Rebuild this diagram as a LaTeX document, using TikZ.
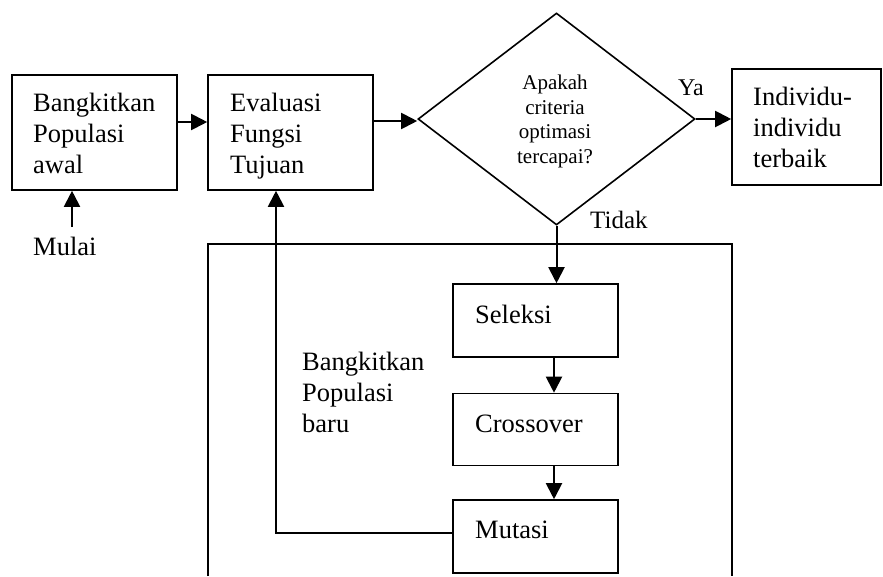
\documentclass[tikz,border=0pt]{standalone}
\usepackage{fontspec}
\setmainfont{Liberation Serif}
\usetikzlibrary{arrows.meta,shapes.geometric}
\begin{document}
\begin{tikzpicture}[x=1pt,y=-1pt,
  box/.style={draw,line width=1.6pt,rectangle,inner sep=0pt},
  txt/.style={anchor=base west,inner sep=0pt,align=left,font=\fontsize{26.5}{31}\selectfont},
  arr/.style={line width=2pt,-{Triangle[length=16pt,width=16pt]}},
  ln/.style={line width=2pt}]
\useasboundingbox (0,0) rectangle (883,576);
% big outer box (open at the bottom edge)
\coordinate (bl) at (208,576);
\coordinate (br) at (732,576);
\draw[line width=1.4pt] (bl) -- (208,244) -- (732,244) -- (br);
% boxes
\node[box,minimum width=165pt,minimum height=115pt] (b1) at (94.5,132.5) {};
\node[box,minimum width=165pt,minimum height=115pt] (b2) at (290.5,132.5) {};
\node[draw,line width=1.6pt,diamond,inner sep=0pt,minimum width=277pt,minimum height=212pt] (d) at (556.5,119) {};
\node[box,minimum width=149pt,minimum height=116pt] (ind) at (806.5,127) {};
\node[box,minimum width=165pt,minimum height=73pt] (sel) at (535.5,320.5) {};
\node[box,minimum width=165pt,minimum height=72pt] (cro) at (535.5,429.5) {};
\node[box,minimum width=165pt,minimum height=73pt] (mut) at (535.5,536.5) {};
% texts (base anchor = baseline of the last line)
\node[txt] (t1) at (33,173) {Bangkitkan\\Populasi\\awal};
\node[txt] (t2) at (230,173) {Evaluasi\\Fungsi\\Tujuan};
\node[txt] (t3) at (753,167) {Individu-\\individu\\terbaik};
\node[anchor=base,inner sep=0pt,align=center,font=\fontsize{21}{24.5}\selectfont] (td) at (555,163) {Apakah\\criteria\\optimasi\\tercapai?};
\node[txt] (mulai) at (33,255) {Mulai};
\node[anchor=base west,inner sep=0pt,font=\fontsize{24}{28}\selectfont] (ya) at (678,95) {Ya};
\node[anchor=base west,inner sep=0pt,font=\fontsize{25}{29}\selectfont] (tidak) at (590,228) {Tidak};
\node[txt] (tsel) at (475,323) {Seleksi};
\node[txt] (tcro) at (475,432) {Crossover};
\node[txt] (tmut) at (475,538) {Mutasi};
\node[txt] (tbaru) at (302,432) {Bangkitkan\\Populasi\\baru};
% connectors
\coordinate (start) at (72,227);
\coordinate (ya1) at (0,122);
\coordinate (ya2) at (0,121);
\coordinate (xa) at (554,0);
\coordinate (xb) at (276,0);
\coordinate (corner) at (276,533);
\draw[arr] (start) -- (b1.south -| start);
\draw[arr] (b1.east |- ya1) -- (b2.west |- ya1);
\draw[arr] (b2.east |- ya2) -- (d.west |- ya2);
\draw[arr] (d.east) -- (ind.west |- d.east);
\draw[arr] (d.south) -- (sel.north -| d.south);
\draw[arr] (sel.south -| xa) -- (cro.north -| xa);
\draw[arr] (cro.south -| xa) -- (mut.north -| xa);
\draw[arr] (mut.west |- corner) -- (corner) -- (b2.south -| xb);
\end{tikzpicture}
\end{document}
